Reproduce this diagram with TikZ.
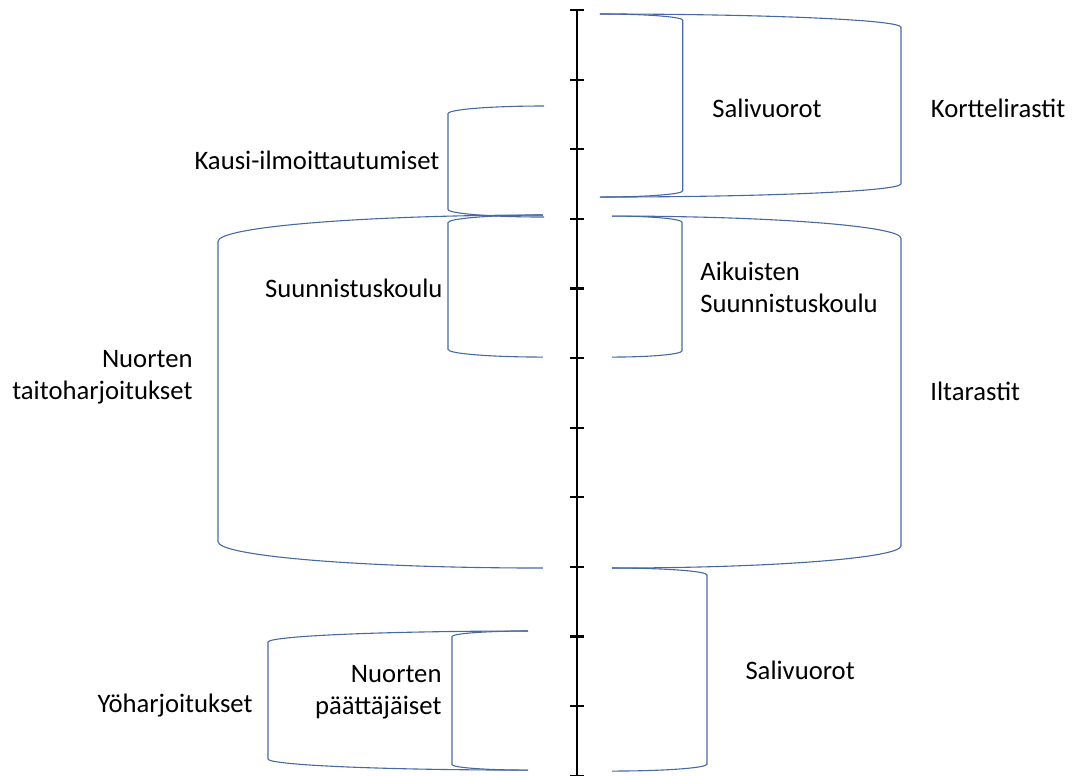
\documentclass[tikz,border=0pt]{standalone}
\usepackage{fontspec}
\setmainfont{Carlito}
\definecolor{bracketblue}{RGB}{72,104,164}

\begin{document}
\begin{tikzpicture}[font=\fontsize{10.9}{13.1}\selectfont,
    bracket/.style={draw=bracketblue,line width=0.45pt},
    tick/.style={line width=0.9pt},
    label/.style={inner sep=0pt}]
    \useasboundingbox (-8.29,0.144) rectangle (7.155,-10.991);

    % time axis
    \draw[line width=1.2pt] (0,0) -- (0,-11);
    \foreach \t in {0,1,...,11} {
        \draw[tick] (-0.1,-\t) -- (0.1,-\t);
    }

    % brackets: open end x / closed side x / top / bottom / corner depth
    \foreach \xo/\xv/\yt/\yb/\d in {
        0.33/1.52/-0.057/-2.687/0.09,
        0.33/4.655/-0.057/-2.687/0.19,
        -0.474/-1.853/-1.379/-2.974/0.11,
        -0.489/-1.853/-2.945/-4.986/0.11,
        -0.489/-5.158/-2.945/-8.017/0.38,
        0.503/1.509/-2.96/-4.986/0.09,
        0.503/4.655/-2.96/-8.017/0.32,
        0.503/1.868/-8.017/-10.934/0.1,
        -0.704/-4.44/-8.922/-10.92/0.16,
        -0.704/-1.796/-8.922/-10.92/0.08} {
        \draw[bracket] (\xo,\yt)
            .. controls ({\xo+0.552*(\xv-\xo)},\yt) and (\xv,{\yt-0.448*\d}) .. (\xv,{\yt-\d})
            -- (\xv,{\yb+\d})
            .. controls (\xv,{\yb+0.448*\d}) and ({\xo+0.552*(\xv-\xo)},\yb) .. (\xo,\yb);
    }

    % right side
    \node[label] (sali1) at (2.73,-1.408) {Salivuorot};
    \node[label] (kortteli) at (6.05,-1.408) {Korttelirastit};
    \node[label,anchor=west,align=left] (aikuiset) at (1.767,-3.98) {Aikuisten\\Suunnistuskoulu};
    \node[label,anchor=west] (ilta) at (5.07,-5.474) {Iltarastit};
    \node[label,anchor=west] (sali2) at (2.414,-9.483) {Salivuorot};

    % left side
    \node[label,anchor=east] (kausi) at (-1.97,-2.155) {Kausi-ilmoittautumiset};
    \node[label,anchor=east] (koulu) at (-1.925,-3.994) {Suunnistuskoulu};
    \node[label,anchor=east,align=right] (taito) at (-5.517,-5.27) {Nuorten\\taitoharjoitukset};
    \node[label,anchor=east,align=right] (paatos) at (-1.94,-9.8) {Nuorten\\päättäjäiset};
    \node[label,anchor=east] (yo) at (-4.655,-9.986) {Yöharjoitukset};
\end{tikzpicture}
\end{document}
